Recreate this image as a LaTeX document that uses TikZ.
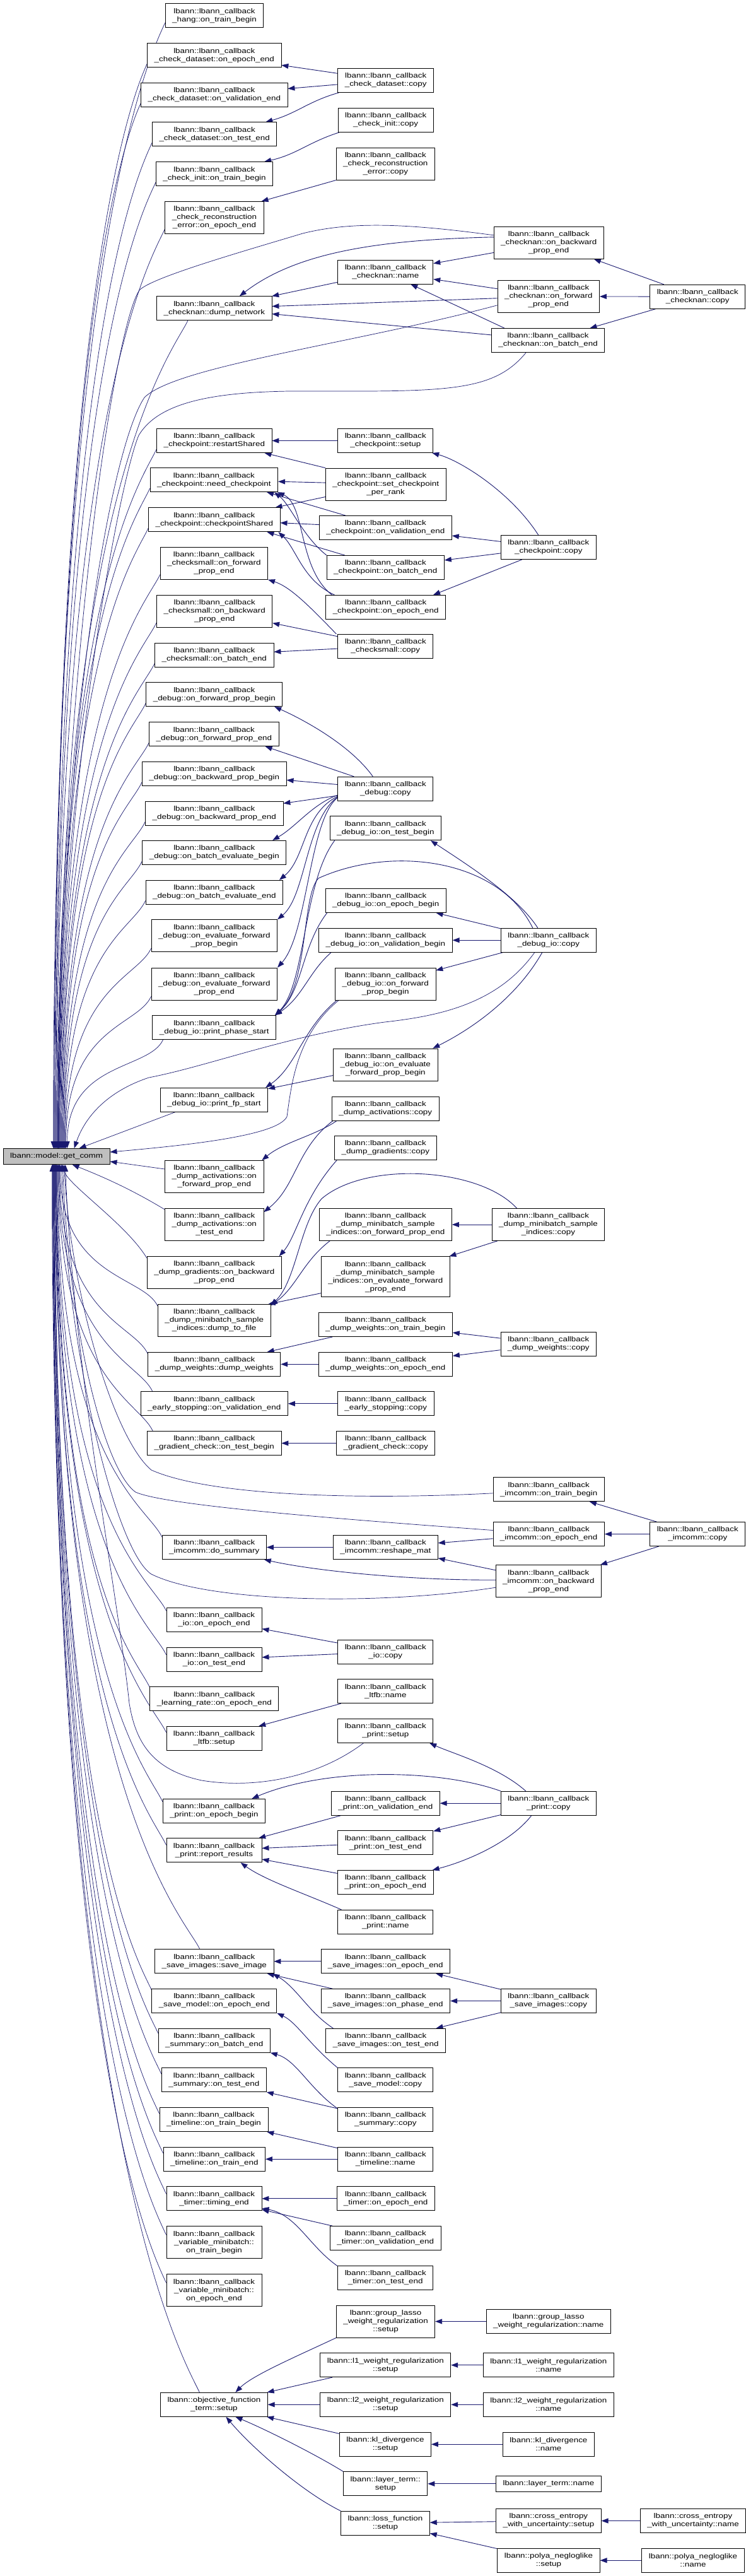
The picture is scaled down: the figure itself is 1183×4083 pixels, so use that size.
\documentclass[tikz,border=0pt]{standalone}
\usepackage{fontspec}
\setmainfont{Liberation Sans}[FakeStretch=1.22]
\usetikzlibrary{arrows.meta,calc}
\definecolor{eblue}{RGB}{25,25,112}
\definecolor{mgrey}{RGB}{191,191,191}
\pgfdeclarelayer{bg}
\pgfsetlayers{bg,main}
\newcommand\nodefont{\fontsize{11}{13}\selectfont}
\newcommand\nd[5]{\node[#4] (#1) at (#2,-#3) {#5};}
\newcommand\upm[2]{\draw[medge] let \p1=#1, \p2=([xshift=#2pt]getcomm.north) in (\p1) .. controls (\x1-22,\y1-48) and (\x2,{\y2+0.8*(\y1-(\y2))}) .. (\p2);}
\newcommand\dnm[2]{\draw[medge] let \p1=#1, \p2=([xshift=#2pt]getcomm.south) in (\p1) .. controls (\x1-22,\y1+48) and (\x2,{\y2+0.8*(\y1-(\y2))}) .. (\p2);}
\tikzset{
 box/.style={draw=black, line width=0.8pt, fill=white, align=center, inner xsep=11pt, inner ysep=0pt, font=\nodefont},
 n1/.style={box, minimum height=25pt},
 n2/.style={box, minimum height=38pt},
 n3/.style={box, minimum height=51pt},
 n4/.style={box, minimum height=64pt},
 hl/.style={n1, fill=mgrey},
 cedge/.style={draw=eblue, line width=0.9pt, -{Triangle[length=11pt,width=8pt]}},
 medge/.style={cedge, line width=0.7pt},
}
\begin{document}
\begin{tikzpicture}[x=1pt,y=1pt]
\useasboundingbox (0,0) rectangle (1183,-4083);
% ---------------- nodes
\nd{hang}{340}{24.7}{n2}{lbann::lbann\_callback\\\_hang::on\_train\_begin}
\nd{cdepoch}{339.8}{87.7}{n2}{lbann::lbann\_callback\\\_check\_dataset::on\_epoch\_end}
\nd{cdval}{339.8}{150.3}{n2}{lbann::lbann\_callback\\\_check\_dataset::on\_validation\_end}
\nd{cdtest}{340.2}{212.8}{n2}{lbann::lbann\_callback\\\_check\_dataset::on\_test\_end}
\nd{citrain}{340}{275.7}{n2}{lbann::lbann\_callback\\\_check\_init::on\_train\_begin}
\nd{crepoch}{340}{345}{n3}{lbann::lbann\_callback\\\_check\_reconstruction\\\_error::on\_epoch\_end}
\nd{cdcopy}{611.7}{127.5}{n2}{lbann::lbann\_callback\\\_check\_dataset::copy}
\nd{cicopy}{611.7}{190.5}{n2}{lbann::lbann\_callback\\\_check\_init::copy}
\nd{crcopy}{611.3}{259.7}{n3}{lbann::lbann\_callback\\\_check\_reconstruction\\\_error::copy}
\nd{cndump}{339.8}{488.8}{n2}{lbann::lbann\_callback\\\_checknan::dump\_network}
\nd{cnname}{611.3}{431.2}{n2}{lbann::lbann\_callback\\\_checknan::name}
\nd{cnbwd}{870.3}{384.8}{n3}{lbann::lbann\_callback\\\_checknan::on\_backward\\\_prop\_end}
\nd{cnfwd}{869.8}{469.8}{n3}{lbann::lbann\_callback\\\_checknan::on\_forward\\\_prop\_end}
\nd{cnbatch}{869.1}{539.5}{n2}{lbann::lbann\_callback\\\_checknan::on\_batch\_end}
\nd{cncopy}{1106.3}{470.2}{n2}{lbann::lbann\_callback\\\_checknan::copy}
\nd{ckprestart}{339.8}{698.5}{n2}{lbann::lbann\_callback\\\_checkpoint::restartShared}
\nd{ckpsetup}{611.3}{698.5}{n2}{lbann::lbann\_callback\\\_checkpoint::setup}
\nd{ckpneed}{339.4}{760.7}{n2}{lbann::lbann\_callback\\\_checkpoint::need\_checkpoint}
\nd{ckpsetper}{611.7}{767.5}{n3}{lbann::lbann\_callback\\\_checkpoint::set\_checkpoint\\\_per\_rank}
\nd{ckpshared}{339.8}{823.8}{n2}{lbann::lbann\_callback\\\_checkpoint::checkpointShared}
\nd{ckpval}{611.4}{836.5}{n2}{lbann::lbann\_callback\\\_checkpoint::on\_validation\_end}
\nd{ckpbatch}{611.3}{899.5}{n2}{lbann::lbann\_callback\\\_checkpoint::on\_batch\_end}
\nd{ckpepoch}{611.7}{962.3}{n2}{lbann::lbann\_callback\\\_checkpoint::on\_epoch\_end}
\nd{ckpcopy}{869.8}{867.5}{n2}{lbann::lbann\_callback\\\_checkpoint::copy}
\nd{csfwd}{339.4}{892.8}{n3}{lbann::lbann\_callback\\\_checksmall::on\_forward\\\_prop\_end}
\nd{csbwd}{340.2}{968.8}{n3}{lbann::lbann\_callback\\\_checksmall::on\_backward\\\_prop\_end}
\nd{cscopy}{611.3}{1024.3}{n2}{lbann::lbann\_callback\\\_checksmall::copy}
\nd{csbatch}{339.8}{1038}{n2}{lbann::lbann\_callback\\\_checksmall::on\_batch\_end}
\nd{dbgfpb}{339.8}{1100.7}{n2}{lbann::lbann\_callback\\\_debug::on\_forward\_prop\_begin}
\nd{dbgfpe}{339.4}{1163.7}{n2}{lbann::lbann\_callback\\\_debug::on\_forward\_prop\_end}
\nd{dbgbpb}{339.8}{1226.3}{n2}{lbann::lbann\_callback\\\_debug::on\_backward\_prop\_begin}
\nd{dbgbpe}{339.8}{1289}{n2}{lbann::lbann\_callback\\\_debug::on\_backward\_prop\_end}
\nd{dbgbeb}{339.8}{1351.3}{n2}{lbann::lbann\_callback\\\_debug::on\_batch\_evaluate\_begin}
\nd{dbgcopy}{611.3}{1250.2}{n2}{lbann::lbann\_callback\\\_debug::copy}
\nd{diotest}{611.3}{1312.8}{n2}{lbann::lbann\_callback\\\_debug\_io::on\_test\_begin}
\nd{dbgbee}{339.8}{1414.2}{n2}{lbann::lbann\_callback\\\_debug::on\_batch\_evaluate\_end}
\nd{dbgefb}{339.8}{1483.3}{n3}{lbann::lbann\_callback\\\_debug::on\_evaluate\_forward\\\_prop\_begin}
\nd{dbgefe}{339.8}{1559.5}{n3}{lbann::lbann\_callback\\\_debug::on\_evaluate\_forward\\\_prop\_end}
\nd{diopps}{339.8}{1628.7}{n2}{lbann::lbann\_callback\\\_debug\_io::print\_phase\_start}
\nd{dioepoch}{611.7}{1427.5}{n2}{lbann::lbann\_callback\\\_debug\_io::on\_epoch\_begin}
\nd{dioval}{611.4}{1490.2}{n2}{lbann::lbann\_callback\\\_debug\_io::on\_validation\_begin}
\nd{diofpb}{611.3}{1559.5}{n3}{lbann::lbann\_callback\\\_debug\_io::on\_forward\\\_prop\_begin}
\nd{diocopy}{869.8}{1490.2}{n2}{lbann::lbann\_callback\\\_debug\_io::copy}
\nd{dioefb}{611.3}{1687.5}{n3}{lbann::lbann\_callback\\\_debug\_io::on\_evaluate\\\_forward\_prop\_begin}
\nd{diopfs}{339.4}{1743.3}{n2}{lbann::lbann\_callback\\\_debug\_io::print\_fp\_start}
\nd{getcomm}{89.6}{1833}{hl}{lbann::model::get\_comm}
\nd{dacopy}{611.3}{1757}{n2}{lbann::lbann\_callback\\\_dump\_activations::copy}
\nd{dgcopy}{611.3}{1819.5}{n2}{lbann::lbann\_callback\\\_dump\_gradients::copy}
\nd{dafpe}{339.8}{1865}{n3}{lbann::lbann\_callback\\\_dump\_activations::on\\\_forward\_prop\_end}
\nd{datest}{339.8}{1941}{n3}{lbann::lbann\_callback\\\_dump\_activations::on\\\_test\_end}
\nd{dmbfpe}{611.4}{1941}{n3}{lbann::lbann\_callback\\\_dump\_minibatch\_sample\\\_indices::on\_forward\_prop\_end}
\nd{dmbcopy}{869.5}{1941}{n3}{lbann::lbann\_callback\\\_dump\_minibatch\_sample\\\_indices::copy}
\nd{dgrbpe}{339.8}{2017}{n3}{lbann::lbann\_callback\\\_dump\_gradients::on\_backward\\\_prop\_end}
\nd{dmbefe}{611.3}{2023.7}{n4}{lbann::lbann\_callback\\\_dump\_minibatch\_sample\\\_indices::on\_evaluate\_forward\\\_prop\_end}
\nd{dmbdump}{339.7}{2093}{n3}{lbann::lbann\_callback\\\_dump\_minibatch\_sample\\\_indices::dump\_to\_file}
\nd{dwtrain}{611.3}{2099.5}{n2}{lbann::lbann\_callback\\\_dump\_weights::on\_train\_begin}
\nd{dwcopy}{869.8}{2130.2}{n2}{lbann::lbann\_callback\\\_dump\_weights::copy}
\nd{dwdump}{339.8}{2162.3}{n2}{lbann::lbann\_callback\\\_dump\_weights::dump\_weights}
\nd{dwepoch}{611.3}{2162.3}{n2}{lbann::lbann\_callback\\\_dump\_weights::on\_epoch\_end}
\nd{esval}{339.8}{2224.8}{n2}{lbann::lbann\_callback\\\_early\_stopping::on\_validation\_end}
\nd{escopy}{611.7}{2224.8}{n2}{lbann::lbann\_callback\\\_early\_stopping::copy}
\nd{gctest}{339.8}{2287.5}{n2}{lbann::lbann\_callback\\\_gradient\_check::on\_test\_begin}
\nd{gccopy}{611.7}{2287.5}{n2}{lbann::lbann\_callback\\\_gradient\_check::copy}
\nd{imtrain}{870.2}{2360.8}{n2}{lbann::lbann\_callback\\\_imcomm::on\_train\_begin}
\nd{imepoch}{870.2}{2431.5}{n2}{lbann::lbann\_callback\\\_imcomm::on\_epoch\_end}
\nd{imcopy}{1106.3}{2431.5}{n2}{lbann::lbann\_callback\\\_imcomm::copy}
\nd{imsum}{339.8}{2452.5}{n2}{lbann::lbann\_callback\\\_imcomm::do\_summary}
\nd{imresh}{611.3}{2452.5}{n2}{lbann::lbann\_callback\\\_imcomm::reshape\_mat}
\nd{imbwd}{869.9}{2506.2}{n3}{lbann::lbann\_callback\\\_imcomm::on\_backward\\\_prop\_end}
\nd{ioepoch}{339.5}{2567.5}{n2}{lbann::lbann\_callback\\\_io::on\_epoch\_end}
\nd{iotest}{339.5}{2630.2}{n2}{lbann::lbann\_callback\\\_io::on\_test\_end}
\nd{iocopy}{611.3}{2618.2}{n2}{lbann::lbann\_callback\\\_io::copy}
\nd{lrepoch}{339.8}{2692.8}{n2}{lbann::lbann\_callback\\\_learning\_rate::on\_epoch\_end}
\nd{ltfbname}{611.3}{2680.8}{n2}{lbann::lbann\_callback\\\_ltfb::name}
\nd{ltfbsetup}{339.5}{2755.3}{n2}{lbann::lbann\_callback\\\_ltfb::setup}
\nd{prsetup}{611.3}{2743.5}{n2}{lbann::lbann\_callback\\\_print::setup}
\nd{prepb}{339.4}{2870.2}{n2}{lbann::lbann\_callback\\\_print::on\_epoch\_begin}
\nd{prval}{611.3}{2858.2}{n2}{lbann::lbann\_callback\\\_print::on\_validation\_end}
\nd{prcopy}{869.8}{2858.2}{n2}{lbann::lbann\_callback\\\_print::copy}
\nd{prrep}{339.5}{2932.8}{n2}{lbann::lbann\_callback\\\_print::report\_results}
\nd{prtest}{611.3}{2920.8}{n2}{lbann::lbann\_callback\\\_print::on\_test\_end}
\nd{prepe}{611.3}{2983.5}{n2}{lbann::lbann\_callback\\\_print::on\_epoch\_end}
\nd{prname}{611.3}{3046.2}{n2}{lbann::lbann\_callback\\\_print::name}
\nd{sisave}{339.8}{3108.8}{n2}{lbann::lbann\_callback\\\_save\_images::save\_image}
\nd{siepoch}{611.3}{3108.8}{n2}{lbann::lbann\_callback\\\_save\_images::on\_epoch\_end}
\nd{smepoch}{339.8}{3171.5}{n2}{lbann::lbann\_callback\\\_save\_model::on\_epoch\_end}
\nd{siphase}{611.3}{3171.5}{n2}{lbann::lbann\_callback\\\_save\_images::on\_phase\_end}
\nd{sicopy}{869.8}{3171.5}{n2}{lbann::lbann\_callback\\\_save\_images::copy}
\nd{subatch}{339.8}{3234.2}{n2}{lbann::lbann\_callback\\\_summary::on\_batch\_end}
\nd{sitest}{611.7}{3234.2}{n2}{lbann::lbann\_callback\\\_save\_images::on\_test\_end}
\nd{sutest}{339.4}{3296.8}{n2}{lbann::lbann\_callback\\\_summary::on\_test\_end}
\nd{smcopy}{611.3}{3296.8}{n2}{lbann::lbann\_callback\\\_save\_model::copy}
\nd{tltrain}{339}{3359.5}{n2}{lbann::lbann\_callback\\\_timeline::on\_train\_begin}
\nd{sucopy}{611.3}{3359.5}{n2}{lbann::lbann\_callback\\\_summary::copy}
\nd{tlend}{339.8}{3422.2}{n2}{lbann::lbann\_callback\\\_timeline::on\_train\_end}
\nd{tlname}{611.3}{3422.2}{n2}{lbann::lbann\_callback\\\_timeline::name}
\nd{tmtiming}{339.5}{3484.8}{n2}{lbann::lbann\_callback\\\_timer::timing\_end}
\nd{tmepoch}{611.7}{3484.8}{n2}{lbann::lbann\_callback\\\_timer::on\_epoch\_end}
\nd{tmval}{611.3}{3547.5}{n2}{lbann::lbann\_callback\\\_timer::on\_validation\_end}
\nd{tmtest}{611.3}{3610.2}{n2}{lbann::lbann\_callback\\\_timer::on\_test\_end}
\nd{vmtrain}{339.5}{3554.2}{n3}{lbann::lbann\_callback\\\_variable\_minibatch::\\on\_train\_begin}
\nd{vmepoch}{339.5}{3630.2}{n3}{lbann::lbann\_callback\\\_variable\_minibatch::\\on\_epoch\_end}
\nd{glsetup}{611.6}{3679.5}{n3}{lbann::group\_lasso\\\_weight\_regularization\\::setup}
\nd{glname}{869.8}{3679.5}{n2}{lbann::group\_lasso\\\_weight\_regularization::name}
\nd{lonesetup}{611.3}{3748.7}{n2}{lbann::l1\_weight\_regularization\\::setup}
\nd{lonename}{869.9}{3748.7}{n2}{lbann::l1\_weight\_regularization\\::name}
\nd{ofsetup}{339.4}{3811.3}{n2}{lbann::objective\_function\\\_term::setup}
\nd{ltwosetup}{611.3}{3811.3}{n2}{lbann::l2\_weight\_regularization\\::setup}
\nd{ltwoname}{869.9}{3811.3}{n2}{lbann::l2\_weight\_regularization\\::name}
\nd{klsetup}{611}{3874.2}{n2}{lbann::kl\_divergence\\::setup}
\nd{klname}{869.9}{3874.2}{n2}{lbann::kl\_divergence\\::name}
\nd{ltsetup}{611.3}{3936.8}{n2}{lbann::layer\_term::\\setup}
\nd{ltname}{869.9}{3936.8}{n1}{lbann::layer\_term::name}
\nd{lfsetup}{611}{3999.2}{n2}{lbann::loss\_function\\::setup}
\nd{cesetup}{869.9}{3995.5}{n2}{lbann::cross\_entropy\\\_with\_uncertainty::setup}
\nd{cename}{1099}{3995.5}{n2}{lbann::cross\_entropy\\\_with\_uncertainty::name}
\nd{pnsetup}{870}{4058.2}{n2}{lbann::polya\_negloglike\\::setup}
\nd{pnname}{1099}{4058.2}{n2}{lbann::polya\_negloglike\\::name}
% ---------------- edges
\begin{pgfonlayer}{bg}
\fill[white] (0,0) rectangle (1183,-4083);
% check dataset / init / reconstruction
\draw[cedge] (cdcopy) -- (cdepoch);
\draw[cedge] (cdcopy) -- (cdval);
\draw[cedge] ([xshift=2pt]cdcopy.south west) .. controls (490,-160) and (470,-180) .. ([xshift=-18pt]cdtest.north east);
\draw[cedge] ([xshift=2pt]cicopy.south west) .. controls (490,-225) and (470,-245) .. ([xshift=-14pt]citrain.north east);
\draw[cedge] (crcopy.south west) -- ([xshift=-4pt]crepoch.north east);
% checknan
\draw[cedge] (cnname) -- (cndump);
\draw[cedge] (cnbwd) -- (cnname);
\draw[cedge] (cnfwd) -- (cnname);
\draw[cedge] (cnfwd) -- (cndump);
\draw[cedge] ([xshift=21pt]cnbatch.north west) -- ([xshift=40pt]cnname.south);
\draw[cedge] (cnbatch) -- (cndump);
\draw[cedge] (cncopy) -- (cnbwd);
\draw[cedge] (cncopy) -- (cnfwd);
\draw[cedge] (cncopy) -- (cnbatch);
\draw[cedge] ([yshift=9pt]cnbwd.west) .. controls (600,-380) and (470,-400) .. ([xshift=40pt]cndump.north);
% checkpoint
\draw[cedge] (ckpsetup) -- (ckprestart);
\draw[cedge] (ckpsetper.north west) -- ([xshift=-12pt]ckprestart.south east);
\draw[cedge] (ckpsetper) -- (ckpneed);
\draw[cedge] ([yshift=-20pt]ckpsetper.west) -- ([xshift=-8pt]ckpshared.north east);
\draw[cedge] ([xshift=42pt]ckpval.north west) -- ([xshift=-18pt]ckpneed.south east);
\draw[cedge] (ckpval) -- (ckpshared);
\draw[cedge] (ckpbatch.north west) .. controls (480,-850) and (460,-800) .. ([xshift=-6pt]ckpneed.south east);
\draw[cedge] ([xshift=29pt]ckpbatch.north west) -- ([xshift=-21pt]ckpshared.south east);
\draw[cedge] ([xshift=10pt]ckpepoch.north west) .. controls (472,-900) and (485,-800) .. ([xshift=-1pt]ckpneed.south east);
\draw[cedge] ([xshift=14pt]ckpepoch.north west) .. controls (480,-920) and (470,-870) .. ([xshift=-3pt]ckpshared.south east);
\draw[cedge] (ckpcopy) -- (ckpval);
\draw[cedge] (ckpcopy) -- (ckpbatch);
\draw[cedge] ([xshift=-42pt]ckpcopy.south) -- ([xshift=-20pt]ckpepoch.north east);
\draw[cedge] ([xshift=-16pt]ckpcopy.north) .. controls (810,-780) and (730,-730) .. ([xshift=-2pt]ckpsetup.south east);
% checksmall
\draw[cedge] ([xshift=-2pt]cscopy.north west) .. controls (490,-960) and (460,-930) .. (csfwd.south east);
\draw[cedge] (cscopy) -- (csbwd);
\draw[cedge] (cscopy) -- (csbatch);
% debug
\draw[cedge] ([xshift=-20pt]dbgcopy.north) .. controls (555,-1180) and (480,-1140) .. ([xshift=-13pt]dbgfpb.south east);
\draw[cedge] ([xshift=-50pt]dbgcopy.north) -- ([xshift=-22pt]dbgfpe.south east);
\draw[cedge] (dbgcopy) -- (dbgbpb);
\draw[cedge] (dbgcopy) -- (dbgbpe);
\draw[cedge] ([yshift=-10pt]dbgcopy.west) .. controls (495,-1275) and (470,-1310) .. ([xshift=-22pt]dbgbeb.north east);
\draw[cedge] ([yshift=-12pt]dbgcopy.west) .. controls (480,-1290) and (485,-1360) .. ([xshift=-6pt]dbgbee.north east);
\draw[cedge] ([yshift=-13pt]dbgcopy.west) .. controls (485,-1300) and (485,-1420) .. (dbgefb.north east);
\draw[cedge] ([yshift=-14pt]dbgcopy.west) .. controls (490,-1300) and (488,-1480) .. (dbgefe.north east);
% debug io
\draw[cedge] ([xshift=8pt]diotest.south west) .. controls (480,-1400) and (485,-1560) .. ([xshift=-2pt]diopps.north east);
\draw[cedge] ([xshift=3pt]dioepoch.south west) .. controls (478,-1500) and (480,-1570) .. ([xshift=-2pt]diopps.north east);
\draw[cedge] ([xshift=20pt]dioval.south west) .. controls (490,-1540) and (480,-1580) .. ([xshift=-2pt]diopps.north east);
\draw[cedge] ([xshift=-25pt]diocopy.north) .. controls (790,-1360) and (620,-1340) .. (505,-1392) .. controls (478,-1420) and (490,-1560) .. ([xshift=-2pt]diopps.north east);
\draw[cedge] ([xshift=-17pt]diocopy.north) .. controls (820,-1420) and (740,-1370) .. ([xshift=-17pt]diotest.south east);
\draw[cedge] (diocopy) -- (dioepoch);
\draw[cedge] (diocopy) -- (dioval);
\draw[cedge] (diocopy) -- (diofpb);
\draw[cedge] ([xshift=-10pt]diocopy.south) .. controls (820,-1580) and (750,-1630) .. ([xshift=-8pt]dioefb.north east);
\draw[cedge] ([xshift=3pt]diofpb.south west) .. controls (480,-1630) and (470,-1690) .. ([xshift=-4pt]diopfs.north east);
\draw[cedge] (dioefb) -- (diopfs);
% dump activations / gradients / minibatch
\draw[cedge] ([xshift=8pt]dacopy.south west) .. controls (500,-1800) and (450,-1810) .. ([xshift=-3pt]dafpe.north east);
\draw[cedge] ([xshift=2pt]dacopy.south west) .. controls (470,-1820) and (470,-1880) .. ([yshift=-6pt]datest.north east);
\draw[cedge] ([xshift=4pt]dgcopy.south west) .. controls (480,-1900) and (470,-1960) .. ([xshift=-4pt]dgrbpe.north east);
\draw[cedge] (dmbcopy) -- (dmbfpe);
\draw[cedge] (dmbcopy) -- (dmbefe);
\draw[cedge] ([xshift=-50pt]dmbcopy.north) .. controls (760,-1850) and (580,-1840) .. (510,-1900) .. controls (475,-1940) and (470,-2030) .. ([yshift=-2pt]dmbdump.north east);
\draw[cedge] ([xshift=17pt]dmbfpe.south west) .. controls (480,-2000) and (470,-2040) .. ([yshift=-2pt]dmbdump.north east);
\draw[cedge] ([yshift=-26pt]dmbefe.west) -- ([xshift=-4pt]dmbdump.north east);
% dump weights, early stopping, gradient check
\draw[cedge] (dwcopy) -- (dwtrain);
\draw[cedge] (dwcopy) -- (dwepoch);
\draw[cedge] (dwtrain) -- (dwdump);
\draw[cedge] (dwepoch) -- (dwdump);
\draw[cedge] (escopy) -- (esval);
\draw[cedge] (gccopy) -- (gctest);
% imcomm
\draw[cedge] (imcopy) -- (imtrain);
\draw[cedge] (imcopy) -- (imepoch);
\draw[cedge] (imcopy) -- (imbwd);
\draw[cedge] (imepoch) -- (imresh);
\draw[cedge] (imbwd) -- (imresh);
\draw[cedge] (imresh) -- (imsum);
\draw[cedge] ([yshift=2pt]imbwd.west) .. controls (650,-2505) and (500,-2490) .. ([xshift=-4pt]imsum.south east);
% io, ltfb
\draw[cedge] (iocopy) -- (ioepoch);
\draw[cedge] (iocopy) -- (iotest);
\draw[cedge] (ltfbname) -- (ltfbsetup);
% print
\draw[cedge] ([xshift=-36pt]prcopy.north) .. controls (790,-2800) and (720,-2780) .. ([xshift=-6pt]prsetup.south east);
\draw[cedge] (prcopy.north west) .. controls (700,-2805) and (520,-2800) .. ([xshift=60pt]prepb.north);
\draw[cedge] (prcopy) -- (prval);
\draw[cedge] (prcopy) -- (prtest);
\draw[cedge] ([xshift=-27pt]prcopy.south) .. controls (810,-2920) and (740,-2950) .. ([xshift=-2pt]prepe.north east);
\draw[cedge] (prval) -- (prrep);
\draw[cedge] (prtest) -- (prrep);
\draw[cedge] (prepe) -- (prrep);
\draw[cedge] ([xshift=6pt]prname.north west) .. controls (480,-3000) and (420,-2980) .. ([xshift=42pt]prrep.south);
% save images / model, summary, timeline, timer
\draw[cedge] (siepoch) -- (sisave);
\draw[cedge] (siphase) -- (sisave);
\draw[cedge] ([xshift=12pt]sitest.north west) .. controls (490,-3190) and (470,-3150) .. ([xshift=-2pt]sisave.south east);
\draw[cedge] (sicopy) -- (siepoch);
\draw[cedge] (sicopy) -- (siphase);
\draw[cedge] (sicopy) -- (sitest);
\draw[cedge] (smcopy.north west) .. controls (490,-3240) and (470,-3205) .. (smepoch.south east);
\draw[cedge] ([yshift=-2pt]sucopy.north west) .. controls (490,-3310) and (470,-3265) .. (subatch.south east);
\draw[cedge] (sucopy) -- (sutest);
\draw[cedge] (tlname) -- (tltrain);
\draw[cedge] (tlname) -- (tlend);
\draw[cedge] (tmepoch) -- (tmtiming);
\draw[cedge] (tmval) -- (tmtiming);
\draw[cedge] ([yshift=-1pt]tmtest.north west) .. controls (490,-3560) and (470,-3510) .. ([yshift=4pt]tmtiming.south east);
% objective function terms
\draw[cedge] (glname) -- (glsetup);
\draw[cedge] (glsetup.south west) .. controls (470,-3735) and (400,-3765) .. ([xshift=34pt]ofsetup.north);
\draw[cedge] (lonename) -- (lonesetup);
\draw[cedge] (lonesetup) -- (ofsetup);
\draw[cedge] (ltwoname) -- (ltwosetup);
\draw[cedge] (ltwosetup) -- (ofsetup);
\draw[cedge] (klname) -- (klsetup);
\draw[cedge] (klsetup) -- (ofsetup);
\draw[cedge] (ltname) -- (ltsetup);
\draw[cedge] (ltsetup.north west) .. controls (500,-3890) and (420,-3850) .. ([xshift=34pt]ofsetup.south);
\draw[cedge] (lfsetup.north west) .. controls (480,-3950) and (400,-3880) .. ([xshift=19pt]ofsetup.south);
\draw[cedge] (cesetup) -- (lfsetup);
\draw[cedge] (pnsetup) -- (lfsetup);
\draw[cedge] (cename) -- (cesetup);
\draw[cedge] (pnname) -- (pnsetup);
% ---------------- edges into get_comm from above
\upm{([yshift=8pt]hang.south west)}{-5}
\upm{([yshift=6pt]cdepoch.south west)}{-4}
\upm{([yshift=6pt]cdval.south west)}{-3}
\upm{([yshift=6pt]cdtest.south west)}{-2}
\upm{([yshift=6pt]citrain.south west)}{-1}
\upm{([yshift=8pt]crepoch.south west)}{0}
\upm{([xshift=-42pt]cndump.south)}{1}
\upm{([yshift=6pt]ckprestart.south west)}{2}
\upm{([yshift=6pt]ckpneed.south west)}{3}
\upm{([yshift=6pt]ckpshared.south west)}{4}
\upm{([yshift=8pt]csfwd.south west)}{5}
\upm{([yshift=8pt]csbwd.south west)}{6}
\upm{([yshift=6pt]csbatch.south west)}{7}
\upm{([yshift=6pt]dbgfpb.south west)}{8}
\upm{([yshift=6pt]dbgfpe.south west)}{9}
\upm{([yshift=6pt]dbgbpb.south west)}{10}
\upm{([yshift=6pt]dbgbpe.south west)}{11}
\upm{([yshift=6pt]dbgbeb.south west)}{12}
\upm{([yshift=6pt]dbgbee.south west)}{13}
\upm{([yshift=6pt]dbgefb.south west)}{14}
\upm{([yshift=6pt]dbgefe.south west)}{15}
\upm{([xshift=17pt]diopps.south west)}{17}
\draw[medge] ([xshift=24pt]diopfs.south west) -- ([xshift=36pt]getcomm.north);
\draw[medge] ([yshift=12pt]cnbwd.west) .. controls (650,-355) and (560,-350) .. (480,-370) .. controls (380,-400) and (240,-440) .. (221,-460) .. controls (180,-520) and (92,-1100) .. ([xshift=2pt]getcomm.north);
\draw[medge] ([yshift=-14pt]cnfwd.west) .. controls (560,-545) and (280,-580) .. (229,-630) .. controls (170,-720) and (93,-1200) .. ([xshift=3pt]getcomm.north);
\draw[medge] ([xshift=-35pt]cnbatch.south) .. controls (780,-625) and (700,-620) .. (458,-620) .. controls (330,-622) and (250,-640) .. (220,-690) .. controls (190,-760) and (94,-1250) .. ([xshift=4pt]getcomm.north);
\draw[medge] ([xshift=-22pt]diocopy.south) .. controls (790,-1590) and (700,-1610) .. (610,-1620) .. controls (460,-1640) and (330,-1690) .. (236,-1708) .. controls (170,-1730) and (135,-1770) .. ([xshift=28pt]getcomm.north);
\draw[medge] ([xshift=6pt]diofpb.south west) .. controls (470,-1640) and (462,-1720) .. (455,-1770) .. controls (440,-1800) and (300,-1815) .. ([yshift=7pt]getcomm.east);
% ---------------- edges into get_comm from below
\draw[medge] ([yshift=12pt]dafpe.west) -- ([yshift=-8pt]getcomm.east);
\draw[medge] ([yshift=-2pt]datest.north west) .. controls (200,-1880) and (150,-1860) .. ([xshift=25pt]getcomm.south);
\draw[medge] ([yshift=-3pt]dgrbpe.north west) .. controls (200,-1940) and (110,-1880) .. ([xshift=8pt]getcomm.south);
\dnm{([yshift=-3pt]dmbdump.north west)}{6}
\dnm{([yshift=-3pt]dwdump.north west)}{5}
\dnm{([xshift=19pt]esval.north west)}{4}
\dnm{([xshift=9pt]gctest.north west)}{3}
\dnm{([yshift=-3pt]imsum.north west)}{2}
\dnm{([yshift=-5pt]ioepoch.north west)}{1}
\dnm{([yshift=-12pt]iotest.north west)}{0}
\dnm{([yshift=-1pt]lrepoch.north west)}{0}
\dnm{([yshift=-10pt]ltfbsetup.north west)}{-1}
\dnm{([yshift=-5pt]prepb.north west)}{-1}
\dnm{([yshift=-11pt]prrep.north west)}{-2}
\dnm{([xshift=-23pt]sisave.north)}{-2}
\dnm{([yshift=-2pt]smepoch.north west)}{-3}
\dnm{([yshift=-8pt]subatch.north west)}{-3}
\dnm{([yshift=-10pt]sutest.north west)}{-4}
\dnm{([yshift=-10pt]tltrain.north west)}{-4}
\dnm{([yshift=-10pt]tlend.north west)}{-5}
\dnm{([yshift=-12pt]tmtiming.north west)}{-5}
\dnm{([yshift=-14pt]vmtrain.north west)}{-6}
\dnm{([yshift=-14pt]vmepoch.north west)}{-6}
\dnm{([xshift=-23pt]ofsetup.north)}{-7}
\draw[medge] ([yshift=-6pt]imtrain.west) .. controls (560,-2378) and (330,-2370) .. (240,-2330) .. controls (180,-2280) and (112,-2050) .. ([xshift=12pt]getcomm.south);
\draw[medge] ([yshift=6pt]imepoch.west) .. controls (500,-2405) and (260,-2385) .. (215,-2365) .. controls (165,-2330) and (108,-2100) .. ([xshift=10pt]getcomm.south);
\draw[medge] ([yshift=-10pt]imbwd.west) .. controls (600,-2545) and (330,-2540) .. (240,-2495) .. controls (185,-2460) and (106,-2150) .. ([xshift=8pt]getcomm.south);
\draw[medge] ([xshift=-35pt]prsetup.south) .. controls (500,-2820) and (400,-2835) .. (320,-2822) .. controls (240,-2805) and (215,-2760) .. (205,-2700) .. controls (190,-2550) and (114,-2150) .. ([xshift=14pt]getcomm.south);
\end{pgfonlayer}
\end{tikzpicture}
\end{document}
